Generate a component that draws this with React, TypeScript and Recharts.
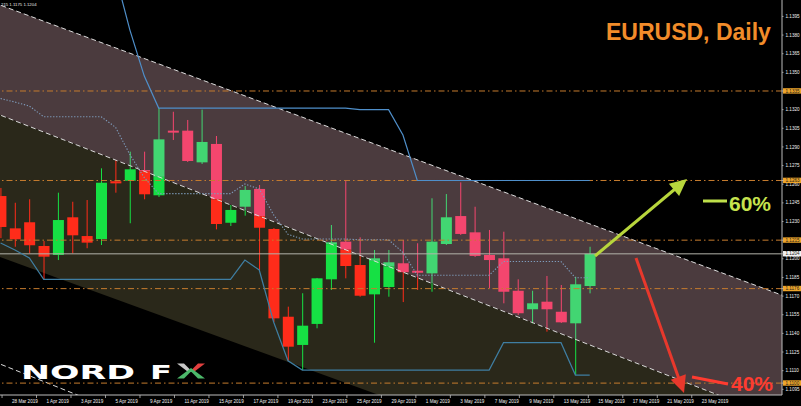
import React from 'react';
import { ComposedChart, XAxis, YAxis, Bar, Line, Area, ReferenceLine } from 'recharts';

// ---- candle data (daily EURUSD) ----
const OPEN = [1.12505, 1.12245, 1.12294, 1.12103, 1.12031, 1.12334, 1.12183, 1.12159, 1.12624, 1.12628, 1.12714, 1.12511, 1.13031, 1.13031, 1.12776, 1.12924, 1.1229, 1.12419, 1.12562, 1.1224, 1.11534, 1.11307, 1.11476, 1.11835, 1.12138, 1.1195, 1.11714, 1.11773, 1.11964, 1.11904, 1.11883, 1.12119, 1.12344, 1.12213, 1.12031, 1.12004, 1.11743, 1.11594, 1.11655, 1.11574, 1.11481, 1.11781];
const HIGH = [1.1257, 1.12451, 1.12479, 1.12143, 1.12532, 1.12459, 1.12473, 1.12728, 1.12795, 1.12862, 1.12862, 1.13213, 1.13183, 1.13117, 1.132, 1.12988, 1.12433, 1.12586, 1.12594, 1.12248, 1.11615, 1.11723, 1.11846, 1.12272, 1.1263, 1.12173, 1.12071, 1.12071, 1.12151, 1.12125, 1.12487, 1.12521, 1.12615, 1.12419, 1.12232, 1.12218, 1.11835, 1.11743, 1.11862, 1.11789, 1.11856, 1.12097];
const LOW = [1.12167, 1.12097, 1.12044, 1.11835, 1.1199, 1.12044, 1.12085, 1.12111, 1.12532, 1.12286, 1.12479, 1.12497, 1.12956, 1.12779, 1.12763, 1.12237, 1.12264, 1.12347, 1.1191, 1.11492, 1.1118, 1.11105, 1.11441, 1.11749, 1.11843, 1.11695, 1.11325, 1.11695, 1.11652, 1.11749, 1.11735, 1.12111, 1.12192, 1.12015, 1.11763, 1.11642, 1.11548, 1.11481, 1.11414, 1.11484, 1.11065, 1.11722];
const CLOSE = [1.12256, 1.12157, 1.12109, 1.12017, 1.12312, 1.12189, 1.1213, 1.12612, 1.12607, 1.1272, 1.12519, 1.12961, 1.13015, 1.12787, 1.1294, 1.1228, 1.12393, 1.12554, 1.1225, 1.11521, 1.11293, 1.11462, 1.11843, 1.12133, 1.11942, 1.11703, 1.12004, 1.11972, 1.11892, 1.11888, 1.12138, 1.12334, 1.122, 1.12023, 1.1199, 1.11735, 1.11562, 1.11642, 1.11594, 1.11489, 1.11795, 1.1204];

// ---- price channel indicator (upper / lower / middle) ----
const D_UP = [1.1445, 1.1445, 1.1445, 1.1445, 1.1445, 1.1445, 1.1445, 1.1445, 1.1428, 1.1384, 1.1347, 1.13213, 1.13213, 1.13213, 1.13213, 1.13213, 1.13213, 1.13213, 1.13213, 1.13213, 1.13213, 1.13213, 1.13213, 1.13213, 1.13213, 1.132, 1.132, 1.132, 1.12996, 1.1263, 1.1263, 1.1263, 1.1263, 1.1263, 1.1263, 1.1263, 1.1263, 1.1263, 1.1263, 1.1263, 1.1263, 1.1263];
const D_LO = [1.12127, 1.12071, 1.12007, 1.11835, 1.11835, 1.11835, 1.11835, 1.11835, 1.11835, 1.11835, 1.11835, 1.11835, 1.11835, 1.11835, 1.11835, 1.11835, 1.11835, 1.1199, 1.1191, 1.11492, 1.1118, 1.11105, 1.11105, 1.11105, 1.11105, 1.11105, 1.11105, 1.11105, 1.11105, 1.11105, 1.11105, 1.11105, 1.11105, 1.11105, 1.11105, 1.11325, 1.11325, 1.11325, 1.11325, 1.11325, 1.11065, 1.11065];
const D_MID = [1.13289, 1.13261, 1.13229, 1.13143, 1.13143, 1.13143, 1.13143, 1.13143, 1.13058, 1.12838, 1.12653, 1.12524, 1.12524, 1.12524, 1.12524, 1.12524, 1.12524, 1.12602, 1.12562, 1.12353, 1.12197, 1.12159, 1.12159, 1.12159, 1.12159, 1.12153, 1.12153, 1.12153, 1.12051, 1.11868, 1.11868, 1.11868, 1.11868, 1.11868, 1.11868, 1.11978, 1.11978, 1.11978, 1.11978, 1.11978, 1.11848, 1.11848];

// ---- drawn channel (endpoints: bar index, price) ----
const CH_I = [-1, 56];
const CH_UP = [1.14083, 1.11638];
const CH_MID = [1.132, 1.10631];
const CH_OLV = [1.12055, 1.09655];
const CH_LOW = [1.11198, 1.08559];

// ---- levels & axes ----
const LEVELS = [1.1335, 1.1263, 1.1215, 1.1176, 1.11];
const CURRENT = 1.1204;
const Y_TICKS = [1.1395, 1.138, 1.1365, 1.135, 1.132, 1.1305, 1.129, 1.1275, 1.126, 1.1245, 1.123, 1.12, 1.1185, 1.117, 1.1155, 1.114, 1.1125, 1.111, 1.1095];
const X_LABELS = ['28 Mar 2019', '1 Apr 2019', '3 Apr 2019', '5 Apr 2019', '9 Apr 2019', '11 Apr 2019', '15 Apr 2019', '17 Apr 2019', '19 Apr 2019', '23 Apr 2019', '25 Apr 2019', '29 Apr 2019', '1 May 2019', '3 May 2019', '7 May 2019', '9 May 2019', '13 May 2019', '15 May 2019', '17 May 2019', '21 May 2019', '23 May 2019'];
const X_TICKS = X_LABELS.map((_, k) => 0.1 + 2.4 * k);
const X_DOMAIN = [-0.042, 54.38];
const Y_DOMAIN = [1.109043, 1.140821];

const candles = OPEN.map((o, i) => ({
  i, open: o, high: HIGH[i], low: LOW[i], close: CLOSE[i], up: D_UP[i], lo: D_LO[i], mid: D_MID[i],
}));
const channel = CH_I.map((i, k) => ({
  i, up: CH_UP[k], mid: CH_MID[k], olv: CH_OLV[k], low: CH_LOW[k],
  pink: [CH_MID[k], CH_UP[k]], olive: [CH_OLV[k], CH_MID[k]],
}));

const BULL_PINK = '#42d672';
const BULL_OLIVE = '#16e044';
const BEAR_PINK = '#f4466e';
const BEAR_OLIVE = '#ff2c1a';

function midAt(i: number) {
  return CH_MID[0] + ((CH_MID[1] - CH_MID[0]) * (i - CH_I[0])) / (CH_I[1] - CH_I[0]);
}

function Candle(props: any) {
  const { x, y, width, height, payload } = props;
  if (x == null || y == null || !payload) return null;
  const top = Math.min(y, y + height);
  const h = Math.abs(height);
  const { open, close, high, low, i } = payload;
  if (!(high > low)) return null;
  const k = h / (high - low);
  const py = (p: number) => top + (high - p) * k;
  const split = py(midAt(i));
  const bull = close >= open;
  const cA = bull ? BULL_PINK : BEAR_PINK;
  const cB = bull ? BULL_OLIVE : BEAR_OLIVE;
  const cx = x + width / 2;
  const parts: any[] = [];
  const seg = (y1: number, y2: number, x0: number, w: number, key: string) => {
    if (split > y1) {
      const e = Math.min(split, y2);
      if (e > y1) parts.push(<rect key={key + 'a'} x={x0} y={y1} width={w} height={e - y1} fill={cA} />);
    }
    if (split < y2) {
      const s = Math.max(split, y1);
      if (y2 > s) parts.push(<rect key={key + 'b'} x={x0} y={s} width={w} height={y2 - s} fill={cB} />);
    }
  };
  seg(py(high), py(low), cx - 0.5, 1, 'w');
  const bt = py(Math.max(open, close));
  const bb = Math.max(py(Math.min(open, close)), bt + 1.6);
  seg(bt, bb, cx - 5.5, 11, 'b');
  return <g>{parts}</g>;
}

const XTick = (p: any) => {
  const v = p.payload ? p.payload.value : 0;
  const k = Math.round((v - 0.1) / 2.4);
  return (
    <g>
      <line x1={p.x} x2={p.x} y1={p.y} y2={p.y + 3} stroke="#bdbdbd" strokeWidth={0.8} />
      <text x={p.x + 10} y={p.y + 7.8} fontSize={4.6} fill="#f0f0f0" fontFamily="Liberation Sans, Arial, sans-serif">
        {X_LABELS[k]}
      </text>
    </g>
  );
};

const YTick = (p: any) => {
  const v = p.payload ? p.payload.value : 0;
  const hl = LEVELS.includes(v);
  const wh = v === CURRENT;
  return (
    <g>
      {(hl || wh) && <rect x={p.x + 1} y={p.y - 2.8} width={18} height={5.4} fill={wh ? '#f2f2f2' : '#eea52a'} />}
      <line x1={p.x} x2={p.x + 1.5} y1={p.y} y2={p.y} stroke="#bdbdbd" strokeWidth={0.8} />
      <text x={p.x + 3.5} y={p.y + 1.6} fontSize={4.6} fill={hl || wh ? '#1a1a1a' : '#f0f0f0'} fontFamily="Liberation Sans, Arial, sans-serif">
        {v.toFixed(4)}
      </text>
    </g>
  );
};

function Arrow({ x1, y1, x2, y2, color, w }: any) {
  const dx = x2 - x1, dy = y2 - y1;
  const L = Math.hypot(dx, dy);
  const ux = dx / L, uy = dy / L;
  const hl = 17, hw = 8;
  const bx = x2 - ux * hl, by = y2 - uy * hl;
  return (
    <g>
      <line x1={x1} y1={y1} x2={bx + ux} y2={by + uy} stroke={color} strokeWidth={w} />
      <polygon points={`${x2},${y2} ${bx - uy * hw},${by + ux * hw} ${bx + uy * hw},${by - ux * hw}`} fill={color} />
    </g>
  );
}

export default function App() {
  return (
    <div style={{ position: 'fixed', left: 0, top: 0, width: 801, height: 406, background: '#000', overflow: 'hidden' }}>
      <ComposedChart width={801} height={406} data={candles} margin={{ top: 0, right: 0, bottom: 0, left: 0 }}>
        <XAxis
          type="number" dataKey="i" domain={X_DOMAIN} allowDataOverflow ticks={X_TICKS} interval={0}
          height={11} tick={XTick} tickLine={false} tickSize={0} tickMargin={0} axisLine={{ stroke: '#bdbdbd' }}
        />
        <YAxis
          type="number" orientation="right" domain={Y_DOMAIN} allowDataOverflow
          ticks={[...Y_TICKS, ...LEVELS, CURRENT]} interval={0} width={19} tick={YTick}
          tickLine={false} tickSize={0} tickMargin={0} axisLine={{ stroke: '#bdbdbd' }}
        />
        <Area data={channel} dataKey="pink" type="linear" fill="#4b3b3e" fillOpacity={1} stroke="none" isAnimationActive={false} />
        <Area data={channel} dataKey="olive" type="linear" fill="#2a281a" fillOpacity={1} stroke="none" isAnimationActive={false} />
        <Line data={channel} dataKey="up" type="linear" stroke="#dcdcdc" strokeDasharray="5 3" dot={false} isAnimationActive={false} />
        <Line data={channel} dataKey="mid" type="linear" stroke="#dcdcdc" strokeDasharray="5 3" dot={false} isAnimationActive={false} />
        <Line data={channel} dataKey="low" type="linear" stroke="#dcdcdc" strokeDasharray="5 3" dot={false} isAnimationActive={false} />
        {LEVELS.map((l) => (
          <ReferenceLine key={l} y={l} stroke="#c67c2e" strokeDasharray="6 3 1.5 3" />
        ))}
        <ReferenceLine y={CURRENT} stroke="#b3b3aa" />
        <Line dataKey="up" type="linear" stroke="#4f8fca" strokeWidth={1.2} dot={false} isAnimationActive={false} />
        <Line dataKey="lo" type="linear" stroke="#3f7ea2" strokeWidth={1.2} dot={false} isAnimationActive={false} />
        <Line dataKey="mid" type="linear" stroke="#7e9cbc" strokeWidth={1.1} strokeDasharray="1.3 1.7" dot={false} isAnimationActive={false} />
        <Bar dataKey={(d: any) => [d.low, d.high]} barSize={11} shape={Candle} isAnimationActive={false} />
      </ComposedChart>
      <svg width={801} height={406} style={{ position: 'absolute', left: 0, top: 0, pointerEvents: 'none' }}>
        <text x={1} y={6} fontSize={4.3} fill="#e8e8e8" fontFamily="Liberation Sans, Arial, sans-serif">215 1.1175 1.1204</text>
        <text x={606} y={40} fontSize={23} fontWeight="bold" fill="#f28c2a" fontFamily="Liberation Sans, Arial, sans-serif">EURUSD, Daily</text>
        <Arrow x1={595} y1={256} x2={687} y2={179} color="#b8d63c" w={3} />
        <Arrow x1={636} y1={258} x2={684} y2={393} color="#e8382c" w={3} />
        <line x1={703} y1={201} x2={727} y2={201} stroke="#bfe04a" strokeWidth={3} />
        <text x={729} y={211} fontSize={21} fontWeight="bold" fill="#c6e34e" fontFamily="Liberation Sans, Arial, sans-serif">60%</text>
        <line x1={692} y1={377} x2={728} y2={384} stroke="#ff3b30" strokeWidth={3} />
        <text x={731} y={391} fontSize={21} fontWeight="bold" fill="#ff3b30" fontFamily="Liberation Sans, Arial, sans-serif">40%</text>
        <text x={21} y={378.5} fontSize={20} fontWeight="bold" fill="#ffffff" fontFamily="DejaVu Sans, sans-serif" textLength={114} lengthAdjust="spacingAndGlyphs">NORD</text>
        <text x={150} y={378.5} fontSize={20} fontWeight="bold" fill="#ffffff" fontFamily="DejaVu Sans, sans-serif" textLength={22} lengthAdjust="spacingAndGlyphs">F</text>
        <polygon points="177,363.5 184,363.5 191,370.5 187.5,371.5" fill="#c8c8c8" />
        <polygon points="205,363.5 198,363.5 191,370.5 194.5,371.5" fill="#e2403f" />
        <polygon points="177,378.5 184,378.5 191,371.5 191,368" fill="#4cb86a" />
        <polygon points="205,378.5 198,378.5 191,371.5 191,368" fill="#4cb86a" />
      </svg>
    </div>
  );
}
